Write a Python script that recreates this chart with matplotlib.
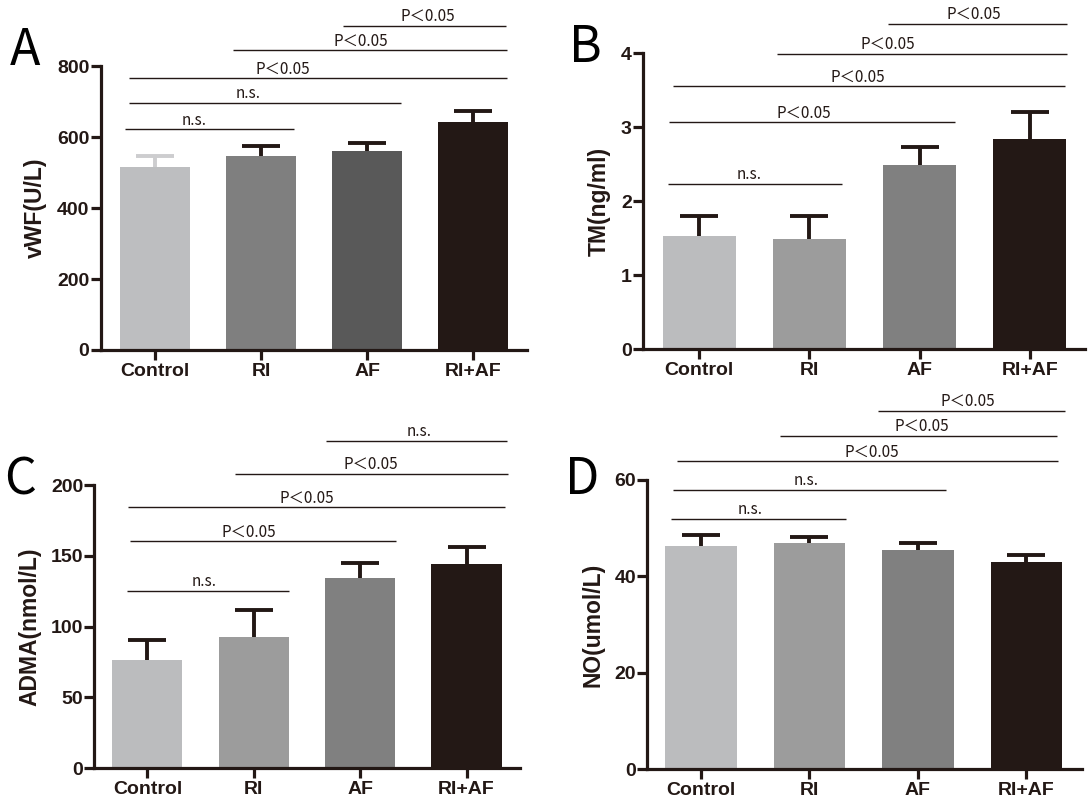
import matplotlib
matplotlib.use("Agg")
import matplotlib.pyplot as plt
import numpy as np

# ---------------- data ----------------
groups = ["Control", "RI", "AF", "RI+AF"]

vwf_mean = [517, 548, 562, 644]
vwf_err = [31, 27, 21, 30]

tm_mean = [1.53, 1.49, 2.49, 2.84]
tm_err = [0.27, 0.31, 0.24, 0.37]

adma_mean = [76.3, 92.8, 134.5, 144.0]
adma_err = [14.4, 19.2, 10.4, 12.0]

no_mean = [46.4, 46.9, 45.4, 42.9]
no_err = [2.1, 1.3, 1.5, 1.5]

# significance brackets: (x_start, x_end, y, label, text_x)
vwf_sig = [(-0.277, 1.31, 622, "n.s.", 0.37),
           (-0.24, 2.318, 696, "n.s.", 0.88),
           (-0.24, 3.316, 766, "P＜0.05", 1.21),
           (0.737, 3.316, 845, "P＜0.05", 1.94),
           (1.777, 3.306, 915, "P＜0.05", 2.57)]
tm_sig = [(-0.28, 1.294, 2.234, "n.s.", 0.45),
          (-0.274, 2.317, 3.067, "P＜0.05", 0.947),
          (-0.233, 3.32, 3.555, "P＜0.05", 1.435),
          (0.708, 3.34, 3.99, "P＜0.05", 1.709),
          (1.709, 3.34, 4.398, "P＜0.05", 2.496)]
adma_sig = [(-0.189, 1.327, 125.4, "n.s.", 0.538),
            (-0.163, 2.341, 160.3, "P＜0.05", 0.952),
            (-0.179, 3.358, 184.3, "P＜0.05", 1.50),
            (0.825, 3.391, 207.8, "P＜0.05", 2.097),
            (1.679, 3.384, 230.9, "n.s.", 2.55)]
no_sig = [(-0.272, 1.337, 51.97, "n.s.", 0.457),
          (-0.253, 2.258, 57.92, "n.s.", 0.969),
          (-0.221, 3.291, 63.87, "P＜0.05", 1.577),
          (0.729, 3.281, 69.12, "P＜0.05", 2.04),
          (1.633, 3.358, 74.3, "P＜0.05", 2.462)]

# ---------------- style ----------------
DARK = "#231815"
colors_A = ["#BDBEC0", "#7F7F7F", "#595959", DARK]
colors_B = ["#BBBCBE", "#9C9C9C", "#808080", DARK]
ecol_A = ["#CDCDCF", DARK, DARK, DARK]
ecol_B = [DARK, DARK, DARK, DARK]

W, H = 1088, 800
fig = plt.figure(figsize=(W / 100, H / 100), dpi=100)

SIGFONT = ["Noto Sans CJK SC", "DejaVu Sans"]
TICKFONT = "Liberation Sans"


def px_axes(left, right, top, bottom):
    return [left / W, 1 - bottom / H, (right - left) / W, (bottom - top) / H]


def panel(rect, means, errs, colors, ecols, ylim, yticks, ylabel, xlim,
          sig, letter, letter_xy):
    ax = fig.add_axes(rect)
    x = np.arange(len(groups))
    ax.bar(x, means, width=0.66, color=colors, zorder=3)
    for xi, m, e, ec in zip(x, means, errs, ecols):
        ax.errorbar(xi, m, yerr=e, fmt="none", ecolor=ec,
                    elinewidth=2.8, capsize=13.5, capthick=2.8, zorder=2)
    ax.set_xlim(*xlim)
    ax.set_ylim(*ylim)
    ax.set_yticks(yticks)
    ax.set_xticks(x)
    ax.set_xticklabels(groups)
    for s in ["top", "right"]:
        ax.spines[s].set_visible(False)
    for s in ["left", "bottom"]:
        ax.spines[s].set_linewidth(2.3)
        ax.spines[s].set_color(DARK)
        ax.spines[s].set_zorder(4)
    ax.tick_params(axis="both", length=7, width=2.3, color=DARK,
                   labelcolor=DARK)
    ax.tick_params(axis="y", pad=1)
    ax.tick_params(axis="x", pad=2.5)
    for lab in ax.get_xticklabels() + ax.get_yticklabels():
        lab.set_fontfamily(TICKFONT)
        lab.set_fontweight("bold")
        lab.set_fontsize(14)
    ax.set_ylabel(ylabel, fontfamily=TICKFONT, fontweight="bold",
                  fontsize=16.5, color=DARK, labelpad=7)
    for x0, x1, y, lab, tx in sig:
        ax.plot([x0, x1], [y, y], color=DARK, lw=1.0, clip_on=False,
                solid_capstyle="butt")
        ax.annotate(lab, xy=(tx, y), xytext=(0, 3.5),
                    textcoords="offset points", ha="center", va="baseline",
                    fontsize=11, family=SIGFONT, color=DARK,
                    annotation_clip=False)
    fig.text(letter_xy[0] / W, 1 - letter_xy[1] / H, letter,
             ha="center", va="baseline", fontsize=36,
             family=["Noto Sans CJK SC", "DejaVu Sans"], color="black")
    return ax


panel(px_axes(100.6, 527, 66.3, 350), vwf_mean, vwf_err, colors_A, ecol_A,
      (0, 800), [0, 200, 400, 600, 800], "vWF(U/L)", (-0.51, 3.505),
      vwf_sig, "A", (25, 65))
panel(px_axes(642.9, 1085, 53.3, 349), tm_mean, tm_err, colors_B, ecol_B,
      (0, 4), [0, 1, 2, 3, 4], "TM(ng/ml)", (-0.51, 3.50),
      tm_sig, "B", (585, 62))
panel(px_axes(94.4, 520.4, 485, 768.3), adma_mean, adma_err, colors_B, ecol_B,
      (0, 200), [0, 50, 100, 150, 200], "ADMA(nmol/L)", (-0.498, 3.506),
      adma_sig, "C", (20, 494))
panel(px_axes(647, 1081.7, 480, 769.3), no_mean, no_err, colors_B, ecol_B,
      (0, 60), [0, 20, 40, 60], "NO(umol/L)", (-0.496, 3.51),
      no_sig, "D", (582, 494))

fig.savefig("out.png", dpi=100, facecolor="white")
